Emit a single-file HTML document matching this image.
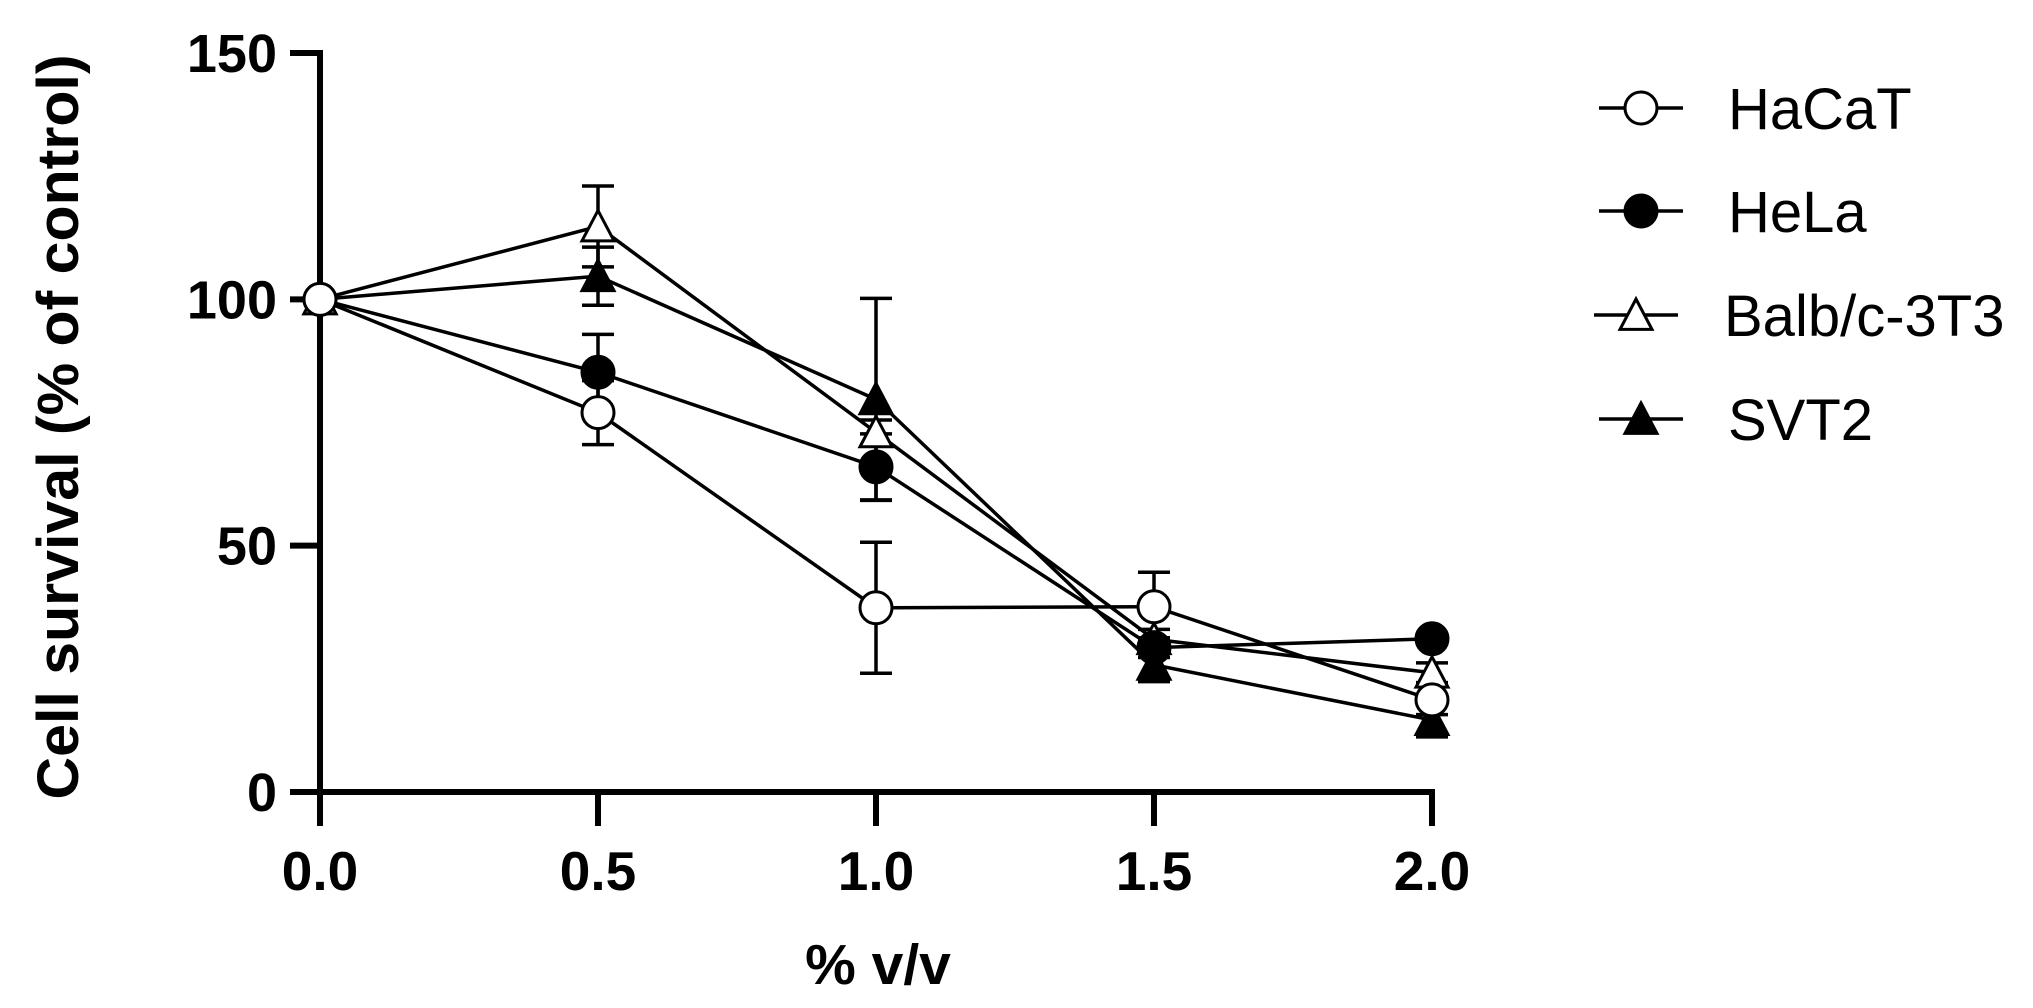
<!DOCTYPE html>
<html><head><meta charset="utf-8"><style>
html,body{margin:0;padding:0;background:#fff;}
svg{display:block;}
text{font-family:"Liberation Sans",Arial,sans-serif;fill:#000;}
</style></head><body>
<svg id="chart" width="2033" height="1008" viewBox="0 0 2033 1008" xmlns="http://www.w3.org/2000/svg">
<g id="axes"></g>
<g id="series"></g>
<g id="legend"></g>
<text transform="translate(78,427) rotate(-90)" text-anchor="middle" font-size="58" font-weight="bold" textLength="745" lengthAdjust="spacingAndGlyphs">Cell survival (% of control)</text>
<text x="878" y="984" text-anchor="middle" font-size="57" font-weight="bold">% v/v</text>
</svg>
<script>
const xValues = [0, 0.5, 1.0, 1.5, 2.0];
const xTicks = ["0.0", "0.5", "1.0", "1.5", "2.0"];
const yTicks = [0, 50, 100, 150];
const seriesNames = ["HaCaT", "HeLa", "Balb/c-3T3", "SVT2"];
const hacat = [100, 77, 37.4, 37.6, 18.7];
const hacatErr = [0, 6.5, 13.3, 7, 3];
const hela = [100, 85.2, 66, 29.3, 31.1];
const helaErr = [0, 7.7, 6.7, 2, 1];
const balb = [100, 114.8, 73, 31, 24.2];
const balbErr = [0, 8.2, 2.5, 2, 2];
const svt2 = [100, 104.7, 79.7, 25.8, 14.6];
const svt2Err = [0, 5.9, 20.5, 3.4, 3.4];

const NS = "http://www.w3.org/2000/svg";
const X0 = 320, X1 = 1432, Y0 = 792, Y1 = 53;
function xs(v){ return X0 + (v - 0) / 2 * (X1 - X0); }
function ys(v){ return Y0 - v / 150 * (Y0 - Y1); }
function mk(tag, attrs, parent){
  const e = document.createElementNS(NS, tag);
  for (const k in attrs) e.setAttribute(k, attrs[k]);
  parent.appendChild(e);
  return e;
}
const axes = document.getElementById('axes');
const ser = document.getElementById('series');
const leg = document.getElementById('legend');

let a = mk('line', {x1:X0, y1:Y1-3, x2:X0, y2:Y0+3, stroke:'#000','stroke-width':6}, axes);


a = mk('line', {x1:X0-3, y1:Y0, x2:X1+3, y2:Y0, stroke:'#000','stroke-width':6}, axes);



yTicks.forEach(function(t){
  const tk = mk('line', {x1:290, y1:ys(t), x2:X0, y2:ys(t), stroke:'#000','stroke-width':6}, axes);
  
  
  const lb = mk('text', {x:277, y:ys(t)+19, 'text-anchor':'end','font-size':54,'font-weight':'bold'}, axes);
  lb.textContent = String(t);
  
  
});
xValues.forEach(function(v, i){
  const tk = mk('line', {x1:xs(v), y1:Y0, x2:xs(v), y2:826, stroke:'#000','stroke-width':6}, axes);
  
  
  const lb = mk('text', {x:xs(v), y:890, 'text-anchor':'middle','font-size':55,'font-weight':'bold'}, axes);
  lb.textContent = xTicks[i];
  
  
});

function marker(kind, cx, cy, parent){
  let e;
  if (kind === 'circle-open' || kind === 'circle-filled') {
    e = mk('circle', {cx:cx, cy:cy, r:16, fill: kind === 'circle-open' ? '#fff' : '#000', stroke:'#000','stroke-width':3}, parent);
  } else {
    const h = 16;
    const pts = (cx) + ',' + (cy - h) + ' ' + (cx - h) + ',' + (cy + h*0.9) + ' ' + (cx + h) + ',' + (cy + h*0.9);
    e = mk('polygon', {points:pts, fill: kind === 'tri-open' ? '#fff' : '#000', stroke:'#000','stroke-width':3,'stroke-linejoin':'miter'}, parent);
  }
  return e;
}

const allSeries = [
  {name:'hacat', vals:hacat, err:hacatErr, kind:'circle-open'},
  {name:'hela', vals:hela, err:helaErr, kind:'circle-filled'},
  {name:'balb-3t3', vals:balb, err:balbErr, kind:'tri-open'},
  {name:'svt2', vals:svt2, err:svt2Err, kind:'tri-filled'}
];
allSeries.forEach(function(s){
  const g = mk('g', {}, ser);
  
  
  s.vals.forEach(function(v, i){
    const e = s.err[i];
    if (!e) return;
    const x = xs(xValues[i]);
    mk('line', {x1:x, y1:ys(v+e), x2:x, y2:ys(v-e), stroke:'#000','stroke-width':3.5}, g);
    mk('line', {x1:x-16, y1:ys(v+e), x2:x+16, y2:ys(v+e), stroke:'#000','stroke-width':3.5}, g);
    mk('line', {x1:x-16, y1:ys(v-e), x2:x+16, y2:ys(v-e), stroke:'#000','stroke-width':3.5}, g);
  });
});
allSeries.forEach(function(s){
  const pts = s.vals.map(function(v, i){ return xs(xValues[i]) + ',' + ys(v); }).join(' ');
  const pl = mk('polyline', {points:pts, fill:'none', stroke:'#000','stroke-width':3.5}, ser);
  
  
});
allSeries.slice().reverse().forEach(function(s){
  s.vals.forEach(function(v, i){
    const m = marker(s.kind, xs(xValues[i]), ys(v), ser);
    
    
  });
});

const legRows = [108, 211, 315, 419];
const legKinds = ['circle-open', 'circle-filled', 'tri-open', 'tri-filled'];
seriesNames.forEach(function(n, i){
  const g = mk('g', {}, leg);
  
  
  const y = legRows[i];
  const cx = i === 2 ? 1636 : 1641;
  mk('line', {x1:cx-42, y1:y, x2:cx+42, y2:y, stroke:'#000','stroke-width':3.5}, g);
  marker(legKinds[i], cx, y, g);
  const t = mk('text', {x: i === 2 ? 1724 : 1728, y:y+21, 'font-size':58}, g);
  t.textContent = n;
});
</script>
</body></html>
